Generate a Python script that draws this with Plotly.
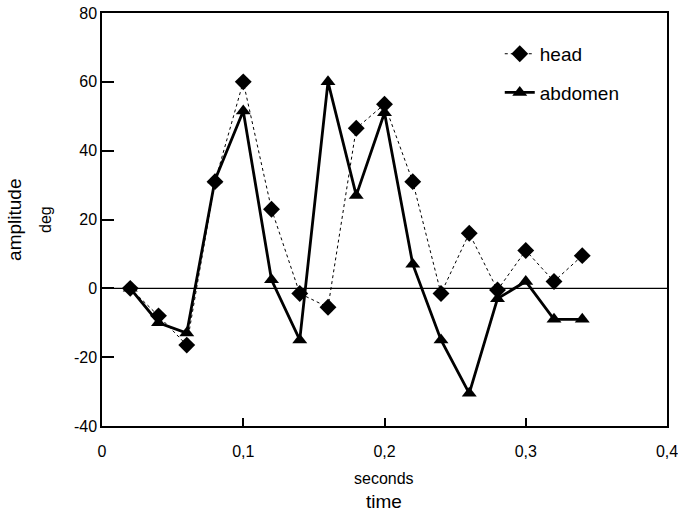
import plotly.graph_objects as go

time_s = [0.02, 0.04, 0.06, 0.08, 0.10, 0.12, 0.14, 0.16, 0.18, 0.20,
          0.22, 0.24, 0.26, 0.28, 0.30, 0.32, 0.34]
head = [0, -8, -16.5, 31, 60, 23, -1.5, -5.5, 46.5, 53.5,
        31, -1.5, 16, -0.5, 11, 2, 9.5]
abdomen = [0, -10, -13, 31.5, 51.5, 2.5, -15, 60, 27, 51,
           7, -15, -30.5, -3, 2, -9, -9]

x_ticks = [0, 0.1, 0.2, 0.3, 0.4]
x_labels = ["0", "0,1", "0,2", "0,3", "0,4"]
y_ticks = [-40, -20, 0, 20, 40, 60, 80]
y_labels = ["-40", "-20", "0", "20", "40", "60", "80"]

font = "Liberation Sans, Arial, sans-serif"

fig = go.Figure()
fig.add_trace(go.Scatter(
    x=time_s, y=head, name="head", mode="lines+markers", legendgroup="h",
    line=dict(color="black", width=1, dash="dot"),
    marker=dict(symbol="diamond", size=13, color="black"),
))
fig.add_trace(go.Scatter(
    x=time_s, y=abdomen, name="abdomen", mode="lines+markers", legendgroup="a",
    line=dict(color="black", width=2.8),
    marker=dict(symbol="triangle-up", size=13, color="black"),
))

fig.add_shape(type="line", xref="x", yref="y", x0=0, x1=0.4, y0=0, y1=0,
              line=dict(color="black", width=1.2), layer="below")

fig.update_layout(
    width=678, height=514,
    margin=dict(l=102, r=11, t=13, b=88, autoexpand=False),
    paper_bgcolor="white", plot_bgcolor="white",
    font=dict(family=font, size=16, color="black"),
    showlegend=True,
    legend=dict(x=0.704, y=0.947, xanchor="left", yanchor="top",
                bgcolor="rgba(0,0,0,0)", font=dict(size=19, color="black"),
                itemwidth=30, tracegroupgap=11),
)
fig.update_xaxes(
    range=[0, 0.4], tickvals=x_ticks, ticktext=x_labels,
    ticks="inside", ticklen=8, tickwidth=1.5, tickcolor="black",
    showline=True, linecolor="black", linewidth=1.5, mirror=True,
    showgrid=False, zeroline=False, tickfont=dict(size=16, color="black"),
    automargin=False, ticklabelstandoff=10, ticklabeloverflow="allow",
)
fig.update_yaxes(
    range=[-40, 80], tickvals=y_ticks, ticktext=y_labels,
    ticks="inside", ticklen=12, tickwidth=1.5, tickcolor="black",
    showline=True, linecolor="black", linewidth=1.5, mirror=True,
    showgrid=False, zeroline=False, tickfont=dict(size=16, color="black"),
    automargin=False, ticklabeloverflow="allow",
)

fig.add_annotation(text="amplitude", xref="paper", yref="paper",
                   x=-0.154, y=0.499, showarrow=False, textangle=-90,
                   font=dict(size=19, color="black"), xanchor="center", yanchor="middle")
fig.add_annotation(text="deg", xref="paper", yref="paper",
                   x=-0.099, y=0.499, showarrow=False, textangle=-90,
                   font=dict(size=16, color="black"), xanchor="center", yanchor="middle")
fig.add_annotation(text="seconds", xref="paper", yref="paper",
                   x=0.499, y=-0.126, showarrow=False,
                   font=dict(size=16, color="black"), xanchor="center", yanchor="middle")
fig.add_annotation(text="time", xref="paper", yref="paper",
                   x=0.499, y=-0.184, showarrow=False,
                   font=dict(size=19, color="black"), xanchor="center", yanchor="middle")

fig.write_html("out.html", config={"displayModeBar": False},
               post_script="document.body.style.margin='0';document.body.style.overflow='hidden';")
